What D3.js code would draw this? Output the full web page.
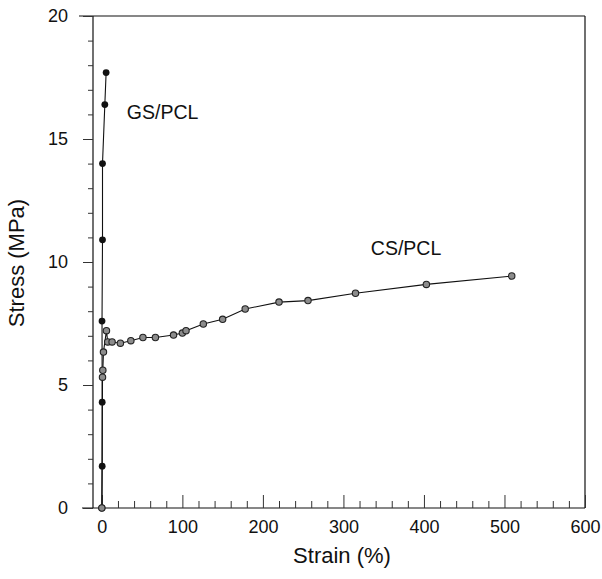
<!DOCTYPE html>
<html>
<head>
<meta charset="utf-8">
<script src="https://cdn.jsdelivr.net/npm/d3@7"></script>
<style>
  html, body { margin: 0; padding: 0; background: #fff; }
  svg { display: block; font-family: "Liberation Sans", Arial, sans-serif; }
</style>
</head>
<body>
<svg id="chart" width="602" height="579"></svg>
<script>
// GS/PCL curve (black dots)
const gsStrain = [0, 0.4, 0.4, 0.2, 0.8, 0.8, 3.7, 5.3]
const gsStress = [0, 1.7, 4.3, 7.6, 10.9, 14.0, 16.4, 17.7]

// CS/PCL curve (gray dots)
const csStrain = [0, 0.8, 1.2, 2, 5.7, 7.3, 12.7, 23, 36, 51, 66.5, 89, 100, 104.5, 126, 150, 178, 220, 256, 315, 403, 509]
const csStress = [0, 5.32, 5.6, 6.34, 7.21, 6.75, 6.75, 6.7, 6.8, 6.93, 6.93, 7.03, 7.11, 7.21, 7.48, 7.67, 8.09, 8.37, 8.43, 8.73, 9.09, 9.43]

const xMajor = [0, 100, 200, 300, 400, 500, 600]
const yMajor = [0, 5, 10, 15, 20]

const seriesNames = ['GS/PCL', 'CS/PCL']
const labelStrain = [31, 334]
const labelStress = [15.8, 10.3]

;(function(){
  const W = 602, H = 579
  const m = {left: 93, right: 17, top: 16, bottom: 71}
  const svg = d3.select('#chart')

  const x = d3.scaleLinear().domain([-11, 600]).range([m.left, W - m.right])
  const y = d3.scaleLinear().domain([0, 20]).range([H - m.bottom, m.top])

  const xMinor = d3.range(0, 601, 20).filter(v => v % 100 !== 0)
  const yMinor = d3.range(0, 21, 1).filter(v => v % 5 !== 0)

  // frame (top and bottom lines run a little past the left axis, as in the scan)
  const fr = svg.append('g').attr('stroke', '#111').attr('stroke-width', 1.2)
  fr.append('line').attr('x1', m.left - 14).attr('x2', W - m.right).attr('y1', m.top).attr('y2', m.top)
  fr.append('line').attr('x1', m.left - 11).attr('x2', W - m.right).attr('y1', H - m.bottom).attr('y2', H - m.bottom)
  fr.append('line').attr('x1', m.left).attr('x2', m.left).attr('y1', m.top).attr('y2', H - m.bottom)
  fr.append('line').attr('x1', W - m.right).attr('x2', W - m.right).attr('y1', m.top).attr('y2', H - m.bottom)

  // x axis: ticks point inward
  const gx = svg.append('g').attr('transform', `translate(0,${H - m.bottom})`)
    .call(d3.axisBottom(x).tickValues(xMajor).tickSize(-13).tickPadding(12).tickFormat(d3.format('d')))
  const gxm = svg.append('g').attr('transform', `translate(0,${H - m.bottom})`)
    .call(d3.axisBottom(x).tickValues(xMinor).tickSize(-7).tickFormat(''))

  // y axis: ticks point outward
  const gy = svg.append('g').attr('transform', `translate(${m.left},0)`)
    .call(d3.axisLeft(y).tickValues(yMajor).tickSize(10).tickPadding(15).tickFormat(d3.format('d')))
  const gym = svg.append('g').attr('transform', `translate(${m.left},0)`)
    .call(d3.axisLeft(y).tickValues(yMinor).tickSize(5).tickFormat(''))

  ;[gx, gxm, gy, gym].forEach(g => {
    g.select('.domain').remove()
    g.selectAll('.tick line').attr('stroke', '#333')
    g.selectAll('.tick text').attr('fill', '#111').style('font-size', '18px')
  })

  // axis titles
  svg.append('text').attr('x', 342).attr('y', 563).attr('text-anchor', 'middle')
    .style('font-size', '22px').attr('fill', '#111').text('Strain (%)')
  svg.append('text').attr('transform', 'translate(24,263) rotate(-90)').attr('text-anchor', 'middle')
    .style('font-size', '22px').attr('fill', '#111').text('Stress (MPa)')

  const line = d3.line().x(d => x(d[0])).y(d => y(d[1]))
  const gs = gsStrain.map((v, i) => [v, gsStress[i]])
  const cs = csStrain.map((v, i) => [v, csStress[i]])

  svg.append('path').datum(gs).attr('d', line).attr('fill', 'none').attr('stroke', '#111').attr('stroke-width', 1.1)
  svg.append('path').datum(cs).attr('d', line).attr('fill', 'none').attr('stroke', '#111').attr('stroke-width', 1.1)

  svg.append('g').selectAll('circle').data(gs).enter().append('circle')
    .attr('cx', d => x(d[0])).attr('cy', d => y(d[1])).attr('r', 3.4)
    .attr('fill', '#111')
  svg.append('g').selectAll('circle').data(cs).enter().append('circle')
    .attr('cx', d => x(d[0])).attr('cy', d => y(d[1])).attr('r', 3.2)
    .attr('fill', '#8c8c8c').attr('stroke', '#222').attr('stroke-width', 1.1)

  // series labels
  svg.append('g').selectAll('text').data(seriesNames).enter().append('text')
    .attr('x', (d, i) => x(labelStrain[i])).attr('y', (d, i) => y(labelStress[i]))
    .style('font-size', '19.5px').attr('fill', '#111').text(d => d)
})();
</script>
</body>
</html>
